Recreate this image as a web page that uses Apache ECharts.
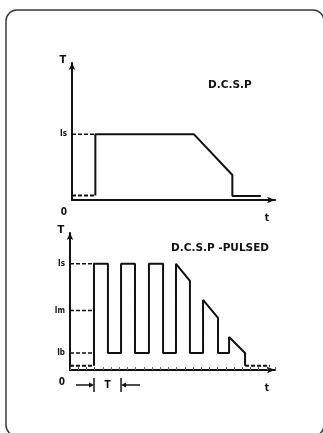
<!DOCTYPE html>
<html>
<head>
<meta charset="utf-8">
<script src="https://cdn.jsdelivr.net/npm/echarts@6/dist/echarts.min.js"></script>
<style>
  html, body { margin: 0; padding: 0; background: #fff; }
  #chart { width: 323px; height: 433px; }
</style>
</head>
<body>
<div id="chart"></div>
<script>
// top diagram: D.C.S.P (current vs time, Is = 100)
var topTime    = [0, 11.5, 11.5, 60, 79, 79, 93];
var topCurrent = [7, 7, 100, 100, 38, 6, 6];
var topLevelNames = ['Is'];
var topLevels     = [100];

// bottom diagram: D.C.S.P - PULSED
var pulseTime    = [0, 11.7, 11.7, 18.5, 18.5, 24.9, 24.9, 31.7, 31.7, 38.5, 38.5, 45.4, 45.4,
                    51.7, 51.7, 58.5, 58.5, 64.9, 64.9, 72.2, 72.2, 77.6, 77.6, 85.4, 85.4, 97.6];
var pulseCurrent = [4, 4, 100, 100, 16, 16, 100, 100, 16, 16, 100, 100, 16, 16,
                    100, 84, 16, 16, 66, 49, 16, 16, 31, 16, 4, 4];
var pulseLevelNames = ['Is', 'Im', 'Ib'];
var pulseLevels     = [100, 56, 16];

var ink = '#111';
var font = '"DejaVu Sans Condensed", "Liberation Sans Narrow", sans-serif';
var titleFont = '"DejaVu Sans", sans-serif';

function pairs(xs, ys, from, to) {
  var out = [];
  for (var i = from; i <= to; i++) out.push([xs[i], ys[i]]);
  return out;
}

function levelFormatter(names, values) {
  return function (v) {
    var i = values.indexOf(v);
    return i >= 0 ? names[i] : '';
  };
}

function xAxisOf(grid, ticks) {
  return {
    gridIndex: grid, type: 'value', min: 0, max: 100, interval: 4,
    axisLine: { lineStyle: { color: ink, width: 2 }, symbol: ['none', 'arrow'], symbolSize: [5, 8] },
    axisTick: { show: ticks, inside: true, length: 3, lineStyle: { color: '#666', width: 1 } },
    axisLabel: { show: false },
    splitLine: { show: false }
  };
}

function yAxisOf(grid, max, names, values) {
  return {
    gridIndex: grid, type: 'value', min: 0, max: max,
    axisLine: { lineStyle: { color: ink, width: 2 }, symbol: ['none', 'arrow'], symbolSize: [5, 7] },
    axisTick: { show: false },
    axisLabel: {
      customValues: values, formatter: levelFormatter(names, values),
      margin: 5, fontSize: 8, fontWeight: 'bold', color: ink, fontFamily: font
    },
    splitLine: { show: false }
  };
}

function lineSeries(grid, data, dashed, width) {
  return {
    type: 'line', xAxisIndex: grid, yAxisIndex: grid, data: data,
    showSymbol: false, symbol: 'none', animation: false, silent: true,
    lineStyle: { color: ink, width: width || 2, type: dashed ? [4, 2] : 'solid' }
  };
}

var series = [];
// level guides
topLevels.forEach(function (lv) {
  series.push(lineSeries(0, [[0, lv], [topTime[1], lv]], true, 1.5));
});
pulseLevels.forEach(function (lv) {
  series.push(lineSeries(1, [[0, lv], [pulseTime[1], lv]], true, 1.5));
});
// waveforms
series.push(lineSeries(0, pairs(topTime, topCurrent, 0, 1), true, 2));
series.push(lineSeries(0, pairs(topTime, topCurrent, 1, topTime.length - 1), false, 2));
var n = pulseTime.length;
series.push(lineSeries(1, pairs(pulseTime, pulseCurrent, 0, 1), true, 2));
series.push(lineSeries(1, pairs(pulseTime, pulseCurrent, 1, n - 2), false, 2));
series.push(lineSeries(1, pairs(pulseTime, pulseCurrent, n - 2, n - 1), true, 2));

var chart = echarts.init(document.getElementById('chart'));
chart.setOption({
  backgroundColor: '#fff',
  animation: false,
  title: [
    { text: 'D.C.S.P', left: 203, top: 75,
      textStyle: { fontSize: 10.5, fontWeight: 'bold', color: ink, fontFamily: titleFont } },
    { text: 'D.C.S.P -PULSED', left: 166, top: 238,
      textStyle: { fontSize: 10.5, fontWeight: 'bold', color: ink, fontFamily: titleFont } }
  ],
  grid: [
    { left: 72, top: 63, width: 203, height: 137 },
    { left: 70, top: 233, width: 205, height: 137 }
  ],
  xAxis: [xAxisOf(0, false), xAxisOf(1, true)],
  yAxis: [yAxisOf(0, 208, topLevelNames, topLevels), yAxisOf(1, 129, pulseLevelNames, pulseLevels)],
  series: series
});

// labels and the period marker, placed through the axes
function txt(x, y, s, size) {
  return { type: 'text', x: x, y: y, silent: true,
    style: { text: s, fontSize: size, fontWeight: 'bold', fill: ink, fontFamily: font,
             align: 'center', verticalAlign: 'middle' } };
}
var g = [{
  type: 'rect', silent: true,
  shape: { x: 6, y: 10, width: 318, height: 426, r: 11 },
  style: { fill: 'none', stroke: '#3a3a3a', lineWidth: 1.5 }
}];
[[0, 208], [1, 129]].forEach(function (a) {
  var o = chart.convertToPixel({ gridIndex: a[0] }, [0, 0]);
  var top = chart.convertToPixel({ gridIndex: a[0] }, [0, a[1]]);
  var end = chart.convertToPixel({ gridIndex: a[0] }, [100, 0]);
  g.push(txt(o[0] - 9, top[1] - 3, 'T', 11));
  g.push(txt(o[0] - 8, o[1] + 12, '0', 10));
  g.push(txt(end[0] - 8, end[1] + 18, 't', 10));
});
var p0 = chart.convertToPixel({ gridIndex: 1 }, [pulseTime[1], 0]);
var p1 = chart.convertToPixel({ gridIndex: 1 }, [pulseTime[5], 0]);
var my = p0[1] + 15;
var ls = { stroke: ink, lineWidth: 1.5 };
g.push({ type: 'line', silent: true, shape: { x1: p0[0], y1: my - 7, x2: p0[0], y2: my + 7 }, style: ls });
g.push({ type: 'line', silent: true, shape: { x1: p1[0], y1: my - 7, x2: p1[0], y2: my + 7 }, style: ls });
g.push({ type: 'line', silent: true, shape: { x1: p0[0] - 18, y1: my, x2: p0[0] - 3, y2: my }, style: ls });
g.push({ type: 'polygon', silent: true, shape: { points: [[p0[0], my], [p0[0] - 5, my - 2.5], [p0[0] - 5, my + 2.5]] }, style: { fill: ink } });
g.push({ type: 'line', silent: true, shape: { x1: p1[0] + 3, y1: my, x2: p1[0] + 19, y2: my }, style: ls });
g.push({ type: 'polygon', silent: true, shape: { points: [[p1[0], my], [p1[0] + 5, my - 2.5], [p1[0] + 5, my + 2.5]] }, style: { fill: ink } });
g.push(txt((p0[0] + p1[0]) / 2, my, 'T', 10));
chart.setOption({ graphic: g });
</script>
</body>
</html>
